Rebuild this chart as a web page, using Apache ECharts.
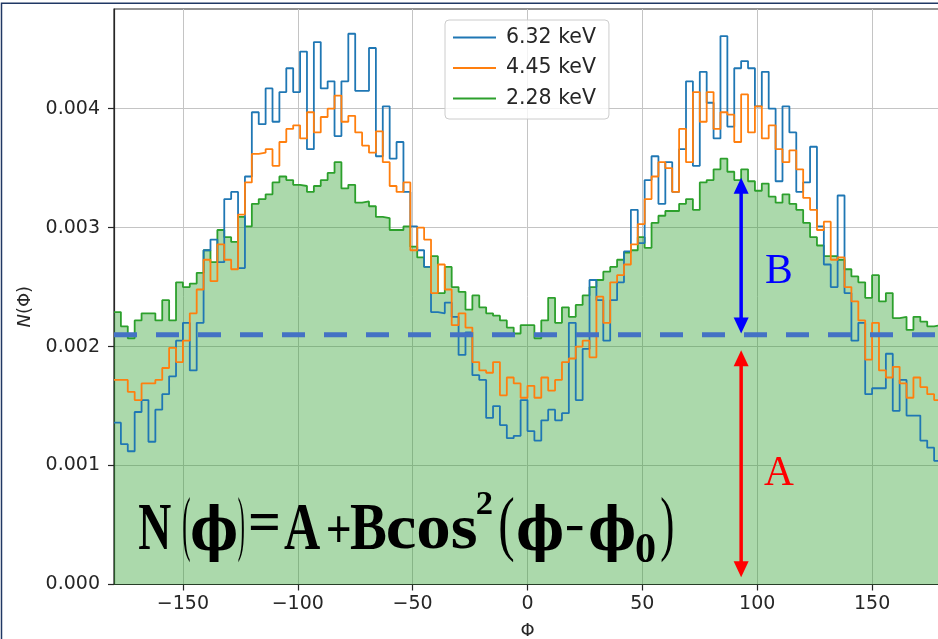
<!DOCTYPE html>
<html><head><meta charset="utf-8">
<script src="https://cdn.jsdelivr.net/npm/echarts@6.0.0/dist/echarts.min.js"></script>
<style>html,body{margin:0;padding:0;background:#fff}#c{width:938px;height:639px}</style>
</head><body><div id="c"></div>
<script>
// ---- data ----
const binStart = -180;      // left edge of first bin (deg)
const binWidth = 3;         // bin width (deg)
const seriesNames = ['6.32 keV', '4.45 keV', '2.28 keV'];
const blue = [
0.00136,0.00118,0.00112,0.00145,0.00155,0.00120,0.00147,0.00160,0.00175,0.00205,
0.00220,0.00180,0.00220,0.00281,0.00290,0.00271,0.00324,0.00330,0.00266,0.00343,
0.00397,0.00387,0.00417,0.00389,0.00414,0.00434,0.00414,0.00448,0.00366,0.00456,
0.00417,0.00423,0.00377,0.00423,0.00463,0.00415,0.00415,0.00451,0.00360,0.00402,
0.00358,0.00372,0.00330,0.00301,0.00281,0.00267,0.00229,0.00228,0.00237,0.00225,
0.00193,0.00212,0.00176,0.00172,0.00140,0.00150,0.00134,0.00123,0.00125,0.00155,
0.00129,0.00121,0.00138,0.00147,0.00138,0.00144,0.00220,0.00155,0.00198,0.00256,
0.00239,0.00205,0.00239,0.00254,0.00280,0.00315,0.00287,0.00340,0.00360,0.00320,
0.00355,0.00330,0.00366,0.00423,0.00352,0.00431,0.00405,0.00375,0.00461,0.00385,
0.00434,0.00440,0.00434,0.00402,0.00431,0.00400,0.00339,0.00402,0.00380,0.00330,
0.00338,0.00368,0.00301,0.00269,0.00250,0.00327,0.00245,0.00205,0.00220,0.00160,
0.00165,0.00165,0.00194,0.00146,0.00172,0.00142,0.00142,0.00121,0.00115,0.00104];
const orange = [
0.00172,0.00172,0.00162,0.00155,0.00169,0.00169,0.00172,0.00182,0.00199,0.00187,
0.00205,0.00228,0.00248,0.00273,0.00255,0.00286,0.00273,0.00265,0.00311,0.00338,
0.00362,0.00363,0.00366,0.00352,0.00372,0.00383,0.00386,0.00375,0.00397,0.00380,
0.00393,0.00400,0.00411,0.00389,0.00394,0.00380,0.00369,0.00363,0.00381,0.00355,
0.00335,0.00330,0.00338,0.00281,0.00300,0.00290,0.00245,0.00269,0.00248,0.00218,
0.00228,0.00216,0.00187,0.00180,0.00178,0.00187,0.00159,0.00174,0.00169,0.00157,
0.00167,0.00157,0.00174,0.00163,0.00172,0.00187,0.00190,0.00200,0.00205,0.00191,
0.00242,0.00220,0.00254,0.00260,0.00269,0.00286,0.00303,0.00324,0.00343,0.00355,
0.00350,0.00330,0.00383,0.00355,0.00414,0.00389,0.00414,0.00383,0.00397,0.00395,
0.00372,0.00412,0.00380,0.00402,0.00375,0.00386,0.00366,0.00355,0.00365,0.00349,
0.00325,0.00315,0.00298,0.00305,0.00273,0.00275,0.00250,0.00238,0.00222,0.00189,
0.00220,0.00180,0.00174,0.00183,0.00169,0.00157,0.00174,0.00166,0.00160,0.00155];
const green = [
0.00229,0.00217,0.00207,0.00222,0.00228,0.00228,0.00222,0.00239,0.00222,0.00254,
0.00250,0.00253,0.00262,0.00281,0.00271,0.00298,0.00292,0.00288,0.00309,0.00301,
0.00320,0.00324,0.00328,0.00338,0.00343,0.00340,0.00336,0.00335,0.00330,0.00335,
0.00340,0.00346,0.00355,0.00333,0.00336,0.00321,0.00322,0.00318,0.00309,0.00308,
0.00298,0.00298,0.00301,0.00284,0.00275,0.00267,0.00276,0.00245,0.00267,0.00250,
0.00246,0.00231,0.00243,0.00233,0.00228,0.00226,0.00222,0.00216,0.00211,0.00218,
0.00218,0.00207,0.00222,0.00241,0.00220,0.00233,0.00225,0.00235,0.00243,0.00250,
0.00256,0.00263,0.00267,0.00273,0.00279,0.00281,0.00292,0.00283,0.00304,0.00310,
0.00314,0.00314,0.00320,0.00324,0.00315,0.00338,0.00340,0.00349,0.00358,0.00347,
0.00340,0.00349,0.00339,0.00331,0.00337,0.00326,0.00321,0.00328,0.00320,0.00315,
0.00304,0.00292,0.00285,0.00276,0.00276,0.00273,0.00265,0.00259,0.00254,0.00241,
0.00260,0.00238,0.00245,0.00224,0.00225,0.00214,0.00225,0.00221,0.00217,0.00218];
const baselineA = 0.0021;          // dashed level A
const arrowPhi = 93;               // x position of the A/B arrows
const arrowB = [0.00211, 0.00342]; // blue arrow (B) from/to
const arrowAr = [0.00006, 0.00197];// red arrow (A) from/to
const xTicks = [-150, -100, -50, 0, 50, 100, 150];
const yTicks = [0, 0.001, 0.002, 0.003, 0.004];

// ---- helpers ----
function steps(vals) {
  const pts = vals.map((v, i) => [binStart + i * binWidth, v]);
  pts.push([binStart + vals.length * binWidth, vals[vals.length - 1]]);
  return pts;
}
const mctx = document.createElement('canvas').getContext('2d');
function fitText(text, font, L, T, R, B, color) {
  mctx.font = font; mctx.textBaseline = 'middle'; mctx.textAlign = 'left';
  const m = mctx.measureText(text);
  const iw = m.actualBoundingBoxLeft + m.actualBoundingBoxRight;
  const ih = m.actualBoundingBoxAscent + m.actualBoundingBoxDescent;
  const sx = (R - L) / iw, sy = (B - T) / ih;
  return {
    type: 'text', x: L + m.actualBoundingBoxLeft * sx, y: T + m.actualBoundingBoxAscent * sy,
    scaleX: sx, scaleY: sy, z: 100, silent: true,
    style: { text: text, font: font, fill: color, x: 0, y: 0,
      align: 'left', verticalAlign: 'middle', textAlign: 'left', textVerticalAlign: 'middle' }
  };
}
const SB = 'bold 60px "Liberation Serif"', SR = '60px "Liberation Serif"', PH = 'bold 60px "DejaVu Serif"';
const formula = [
  ['N', SB, 139, 505, 171, 549], ['(', SR, 183, 497, 190, 562], ['\u03D5', PH, 192, 505, 236, 562],
  [')', SR, 238, 497, 244, 562], ['=', SB, 250, 514, 278, 530], ['A', SB, 284, 505, 320, 549],
  ['+', SB, 328, 515, 350, 541], ['B', SB, 351, 505, 386, 549], ['cos', SB, 388, 518, 476, 549],
  ['2', 'bold 30px "Liberation Serif"', 477, 493, 492, 514], ['(', SR, 500, 497, 514, 562],
  ['\u03D5', PH, 518, 505, 562, 562], ['\u2212', SB, 567, 526, 583, 531], ['\u03D5', PH, 590, 505, 634, 562],
  ['0', 'bold 40px "Liberation Serif"', 636, 534, 655, 562], [')', SR, 661, 497, 673, 562]
];

const chart = echarts.init(document.getElementById('c'), null, { renderer: 'canvas' });
const axisColor = '#262626';
const fmtX = v => (v < 0 ? '\u2212' + Math.abs(v) : String(v));
chart.setOption({
  animation: false,
  backgroundColor: '#ffffff',
  grid: { left: 114, top: 9, width: 827, height: 575.5, show: true, borderColor: axisColor, borderWidth: 1.2,
    backgroundColor: 'transparent', containLabel: false, outerBoundsMode: 'none' },
  legend: {
    data: seriesNames, orient: 'vertical', left: 445, top: 20,
    itemWidth: 43, itemHeight: 14, itemGap: 9.5, padding: [7, 13, 10, 7],
    itemStyle: { opacity: 0 },
    backgroundColor: 'rgba(255,255,255,0.8)', borderColor: '#cccccc', borderWidth: 1, borderRadius: 4,
    textStyle: { fontFamily: 'DejaVu Sans', fontSize: 20.5, color: axisColor, padding: [0, 0, 0, 5] }
  },
  xAxis: {
    type: 'value', min: -180, max: 180,
    name: '\u03A6', nameLocation: 'middle', nameGap: 38,
    nameTextStyle: { fontFamily: 'DejaVu Sans', fontSize: 18, color: axisColor },
    axisLine: { show: true, onZero: false, lineStyle: { color: axisColor, width: 1.2 } },
    axisTick: { show: true, customValues: xTicks, length: 6, lineStyle: { color: axisColor, width: 1.2 } },
    axisLabel: { customValues: xTicks, formatter: fmtX, fontFamily: 'DejaVu Sans', fontSize: 19, color: axisColor, margin: 10 },
    splitLine: { show: true, lineStyle: { color: '#c4c4c4', width: 1 } }
  },
  yAxis: {
    type: 'value', min: 0, max: 0.004838,
    name: '{i|N}(\u03A6)', nameLocation: 'middle', nameGap: 69, nameRotate: 90,
    nameTextStyle: { fontFamily: 'DejaVu Sans', fontSize: 18, color: axisColor, padding: [0, 20, 0, 0],
      rich: { i: { fontFamily: 'DejaVu Sans', fontStyle: 'italic', fontSize: 18, color: axisColor } } },
    axisLine: { show: true, onZero: false, lineStyle: { color: axisColor, width: 1.2 } },
    axisTick: { show: true, customValues: yTicks, length: 6, lineStyle: { color: axisColor, width: 1.2 } },
    axisLabel: { customValues: yTicks, formatter: v => v.toFixed(3), fontFamily: 'DejaVu Sans', fontSize: 19, color: axisColor, margin: 14 },
    splitLine: { show: true, lineStyle: { color: '#c4c4c4', width: 1 } }
  },
  series: [
    { name: seriesNames[2], type: 'line', step: 'end', data: steps(green), symbol: 'none', z: 2,
      lineStyle: { color: '#2ca02c', width: 1.8 }, itemStyle: { color: '#2ca02c' },
      areaStyle: { color: '#2ca02c', opacity: 0.4 } },
    { name: seriesNames[0], type: 'line', step: 'end', data: steps(blue), symbol: 'none', z: 3,
      lineStyle: { color: '#1f77b4', width: 1.8 }, itemStyle: { color: '#1f77b4' } },
    { name: seriesNames[1], type: 'line', step: 'end', data: steps(orange), symbol: 'none', z: 4,
      lineStyle: { color: '#ff7f0e', width: 1.8 }, itemStyle: { color: '#ff7f0e' } },
    { name: 'level', type: 'line', data: [[-180, baselineA], [180, baselineA]], symbol: 'none', z: 6, silent: true,
      lineStyle: { color: '#4472c4', width: 5, type: [23, 19] } }
  ]
});

function arrow(vals, color) {
  const p1 = chart.convertToPixel({ gridIndex: 0 }, [arrowPhi, vals[0]]);
  const p2 = chart.convertToPixel({ gridIndex: 0 }, [arrowPhi, vals[1]]);
  const x = p1[0], yb = p1[1], yt = p2[1], hw = 7.5, hh = 16;
  return [
    { type: 'line', z: 90, silent: true, shape: { x1: x, y1: yt + hh - 2, x2: x, y2: yb - hh + 2 }, style: { stroke: color, lineWidth: 3.5 } },
    { type: 'polygon', z: 91, silent: true, shape: { points: [[x, yt], [x - hw, yt + hh], [x + hw, yt + hh]] }, style: { fill: color } },
    { type: 'polygon', z: 91, silent: true, shape: { points: [[x, yb], [x - hw, yb - hh], [x + hw, yb - hh]] }, style: { fill: color } }
  ];
}
const els = [];
els.push({ type: 'rect', z: 120, silent: true, shape: { x: 1.5, y: 3.3, width: 945, height: 645 }, style: { fill: 'none', stroke: '#203864', lineWidth: 1.5 } });
els.push(...arrow(arrowB, '#0000ff'));
els.push(...arrow(arrowAr, '#ff0000'));
formula.forEach(f => els.push(fitText(f[0], f[1], f[2], f[3], f[4], f[5], '#000000')));
els.push(fitText('B', '40px "Liberation Serif"', 766, 256, 791, 283, '#0000ff'));
els.push(fitText('A', '40px "Liberation Serif"', 764, 457, 794, 485, '#ff0000'));
chart.setOption({ graphic: { elements: els } });
</script></body></html>
